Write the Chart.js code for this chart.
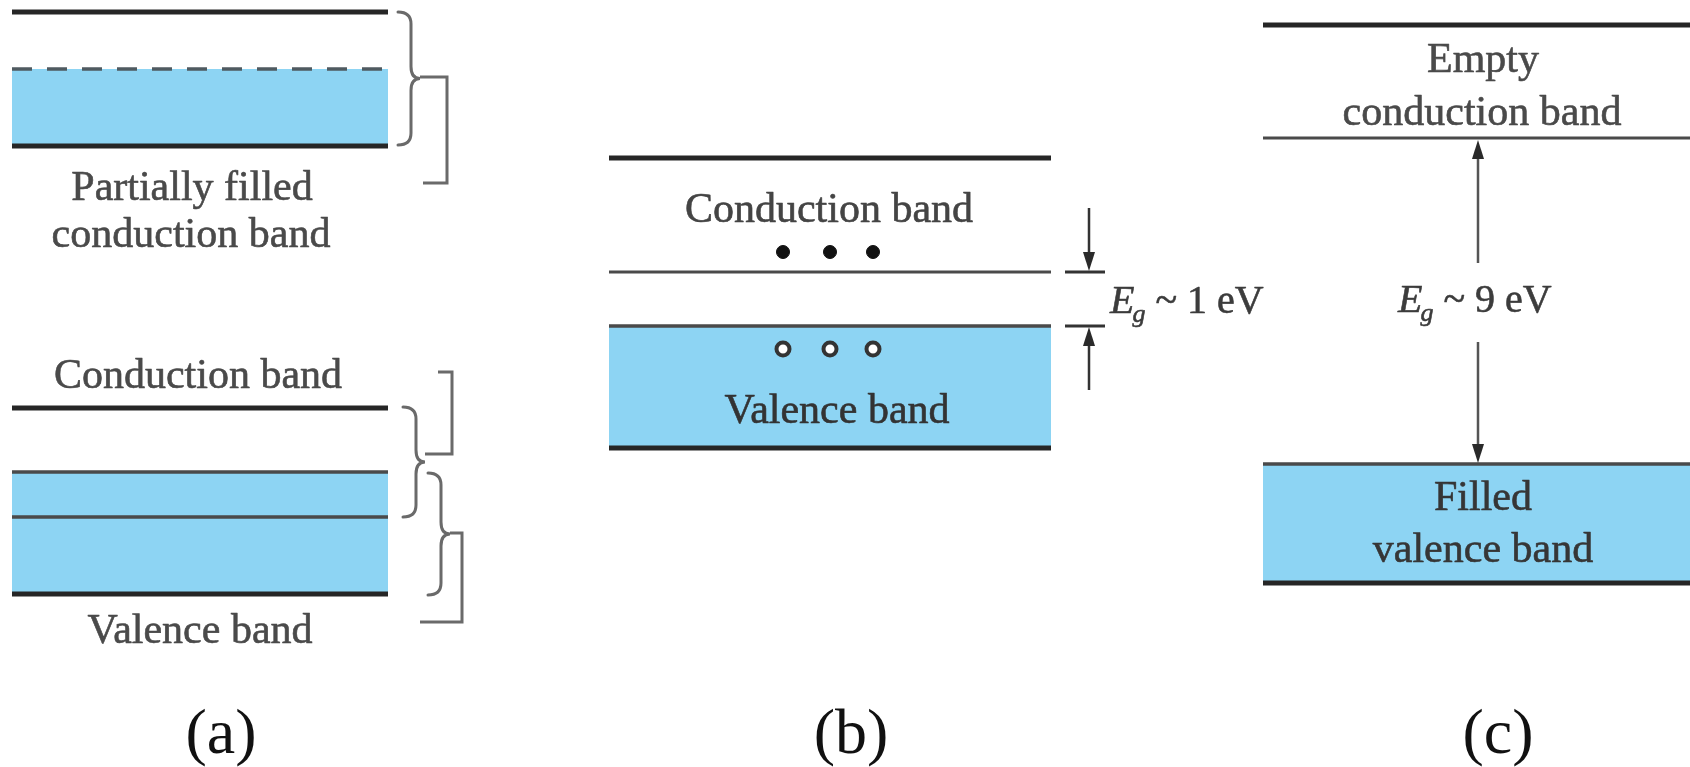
<!DOCTYPE html>
<html>
<head>
<meta charset="utf-8">
<script src="https://cdn.jsdelivr.net/npm/chart.js@4/dist/chart.umd.min.js"></script>
<style>
  html, body { margin: 0; padding: 0; background: #ffffff; }
  #wrap { width: 1690px; height: 767px; position: relative; }
  #fontwarm { position: absolute; left: -9999px; top: 0; font-family: "Liberation Serif"; }
</style>
</head>
<body>
<div id="wrap"><canvas id="c" width="1690" height="767"></canvas></div>
<div id="fontwarm"><span>Ag</span><i>Eg</i></div>
<script>
// ---------- Diagram data (diagram units: x across, y = energy axis drawn downward) ----------
const panelLabels = ['(a)', '(b)', '(c)'];
const panelLabelX = [221, 851, 1498];

// (a) metals
const metalSpan = [12, 388];
const metalLevels = [12, 69, 146];          // band top, Fermi level (dashed), band bottom
const overlapLevels = [408, 472, 517, 594]; // CB top, VB top, CB bottom, VB bottom

// (b) semiconductor
const semiSpan = [609, 1051];
const semiLevels = [158, 272, 326, 448];    // CB top, CB bottom, VB top, VB bottom
const electronX = [783, 830, 873];
const carrierLevels = [252, 349];           // electrons, holes

// (c) insulator
const insSpan = [1263, 1690];
const insLevels = [25, 138, 464, 583];      // CB top, CB bottom, VB top, VB bottom

// band gaps (eV)
const gapValues = ['1', '9'];
const gapArrowX = [1089, 1478];

// braces (a)
const braceTop = [12, 407, 473];
const braceBottom = [145, 517, 595];
const braceLeft = [398, 403, 428];

const BLUE = '#8dd4f3';
const DARK = '#262626';
const THIN = '#4a4a4a';
const SERIF = '"Liberation Serif", "Times New Roman", serif';

// ---------- helpers ----------
function hLine(span, y, width, color, dash) {
  return {
    type: 'line',
    data: [{x: span[0], y: y}, {x: span[1], y: y}],
    borderColor: color, borderWidth: width, borderDash: dash || [],
    pointRadius: 0, fill: false, order: 1, borderCapStyle: 'butt'
  };
}
function band(span, top, bottom) {
  return {
    type: 'line',
    data: [{x: span[0], y: top}, {x: span[1], y: top}],
    borderWidth: 0, borderColor: 'rgba(0,0,0,0)', backgroundColor: BLUE,
    pointRadius: 0, fill: {value: bottom}, order: 10
  };
}
function poly(pts, width, color) {
  return {
    type: 'line',
    data: pts.map(p => ({x: p[0], y: p[1]})),
    borderColor: color, borderWidth: width, pointRadius: 0, fill: false,
    order: 1, tension: 0, borderJoinStyle: 'miter', borderCapStyle: 'butt'
  };
}
function arrowHead(dir) {
  const c = document.createElement('canvas');
  c.width = 14; c.height = 20;
  const g = c.getContext('2d');
  g.fillStyle = '#2a2a2a';
  g.beginPath();
  if (dir === 'down') { g.moveTo(1, 1); g.lineTo(13, 1); g.lineTo(7, 20); }
  else { g.moveTo(7, 0); g.lineTo(13, 19); g.lineTo(1, 19); }
  g.closePath(); g.fill();
  return c;
}
const headDown = arrowHead('down');
const headUp = arrowHead('up');
function head(x, tipY, dir) {
  return {
    type: 'scatter',
    data: [{x: x, y: dir === 'down' ? tipY - 10 : tipY + 10}],
    pointStyle: dir === 'down' ? headDown : headUp,
    pointRadius: 10, order: 0
  };
}

const datasets = [];
// filled bands
datasets.push(band(metalSpan, metalLevels[1], metalLevels[2]));
datasets.push(band(metalSpan, overlapLevels[1], overlapLevels[3]));
datasets.push(band(semiSpan, semiLevels[2], semiLevels[3]));
datasets.push(band(insSpan, insLevels[2], insLevels[3]));
// band edges
datasets.push(hLine(metalSpan, metalLevels[0], 5, DARK));
datasets.push(hLine(metalSpan, metalLevels[1], 3.5, '#4f5a60', [20, 15]));
datasets.push(hLine(metalSpan, metalLevels[2], 5, DARK));
datasets.push(hLine(metalSpan, overlapLevels[0], 5, DARK));
datasets.push(hLine(metalSpan, overlapLevels[1], 3.5, THIN));
datasets.push(hLine(metalSpan, overlapLevels[2], 3.5, THIN));
datasets.push(hLine(metalSpan, overlapLevels[3], 5, DARK));
datasets.push(hLine(semiSpan, semiLevels[0], 5, DARK));
datasets.push(hLine(semiSpan, semiLevels[1], 3, THIN));
datasets.push(hLine(semiSpan, semiLevels[2], 3.5, THIN));
datasets.push(hLine(semiSpan, semiLevels[3], 5, DARK));
datasets.push(hLine(insSpan, insLevels[0], 5, DARK));
datasets.push(hLine(insSpan, insLevels[1], 3, THIN));
datasets.push(hLine(insSpan, insLevels[2], 3.5, THIN));
datasets.push(hLine(insSpan, insLevels[3], 5, DARK));
// brackets beside braces (a)
datasets.push(poly([[420, 77], [447, 77], [447, 183], [423, 183]], 3, '#6a6a6a'));
datasets.push(poly([[425, 454], [452, 454], [452, 372], [438, 372]], 3, '#6a6a6a'));
datasets.push(poly([[450, 533], [462, 533], [462, 622], [420, 622]], 3, '#6a6a6a'));
// gap arrows (b)
const bx = gapArrowX[0];
datasets.push(poly([[bx, 208], [bx, semiLevels[1] - 12]], 2.5, '#333'));
datasets.push(poly([[bx, semiLevels[2] + 12], [bx, 390]], 2.5, '#333'));
datasets.push(poly([[bx - 24, semiLevels[1]], [bx + 16, semiLevels[1]]], 3, '#333'));
datasets.push(poly([[bx - 24, semiLevels[2]], [bx + 16, semiLevels[2]]], 3, '#333'));
datasets.push(head(bx, semiLevels[1] - 1, 'down'));
datasets.push(head(bx, semiLevels[2] + 1, 'up'));
// gap arrows (c)
const cx = gapArrowX[1];
datasets.push(poly([[cx, insLevels[1] + 12], [cx, 263]], 2.5, '#555'));
datasets.push(poly([[cx, 342], [cx, insLevels[2] - 12]], 2.5, '#555'));
datasets.push(head(cx, insLevels[1] + 2, 'up'));
datasets.push(head(cx, insLevels[2] - 1, 'down'));
// carriers (b)
datasets.push({
  type: 'scatter', data: electronX.map(x => ({x: x, y: carrierLevels[0]})),
  pointRadius: 6.5, backgroundColor: '#111', borderColor: '#111', borderWidth: 1, order: 0
});
datasets.push({
  type: 'scatter', data: electronX.map(x => ({x: x, y: carrierLevels[1]})),
  pointRadius: 6.5, backgroundColor: '#ffffff', borderColor: '#333', borderWidth: 4, order: 0
});

// ---------- text & braces plugin ----------
const textItems = [
  ['Partially filled', 192, 200, '#4a4a4a'],
  ['conduction band', 191, 247, '#4a4a4a'],
  ['Conduction band', 198, 388, '#4a4a4a'],
  ['Valence band', 200, 643, '#4a4a4a'],
  ['Conduction band', 829, 222, '#444'],
  ['Valence band', 837, 423, '#333'],
  ['Empty', 1483, 72, '#4a4a4a'],
  ['conduction band', 1482, 125, '#4a4a4a'],
  ['Filled', 1483, 510, '#363636'],
  ['valence band', 1483, 562, '#363636']
];
const gapTextPos = [[1110, 313], [1398, 312]];

function heavyText(ctx, s, x, y, color) {
  ctx.fillStyle = color; ctx.strokeStyle = color; ctx.lineWidth = 0.6;
  ctx.fillText(s, x, y); ctx.strokeText(s, x, y);
}

const overlay = {
  id: 'overlay',
  afterDatasetsDraw(chart) {
    const ctx = chart.ctx, xs = chart.scales.x, ys = chart.scales.y;
    const X = v => xs.getPixelForValue(v), Y = v => ys.getPixelForValue(v);
    ctx.save();
    // braces
    ctx.strokeStyle = '#6a6a6a'; ctx.lineWidth = 3; ctx.lineCap = 'round';
    for (let i = 0; i < braceTop.length; i++) {
      const y0 = Y(braceTop[i]), y1 = Y(braceBottom[i]), ym = (y0 + y1) / 2;
      const xl = X(braceLeft[i]), xm = X(braceLeft[i] + 13), xt = X(braceLeft[i] + 22);
      const r = 12;
      ctx.beginPath();
      ctx.moveTo(xl, y0);
      ctx.quadraticCurveTo(xm, y0, xm, y0 + r);
      ctx.lineTo(xm, ym - r);
      ctx.quadraticCurveTo(xm, ym, xt, ym);
      ctx.quadraticCurveTo(xm, ym, xm, ym + r);
      ctx.lineTo(xm, y1 - r);
      ctx.quadraticCurveTo(xm, y1, xl, y1);
      ctx.stroke();
    }
    ctx.lineCap = 'butt'; ctx.lineJoin = 'round';
    // labels
    ctx.textAlign = 'center'; ctx.textBaseline = 'alphabetic';
    ctx.font = '42px ' + SERIF;
    textItems.forEach(t => heavyText(ctx, t[0], X(t[1]), Y(t[2]), t[3]));
    // gap labels
    ctx.textAlign = 'left';
    gapValues.forEach((v, i) => {
      let x = X(gapTextPos[i][0]); const y = Y(gapTextPos[i][1]);
      const col = '#3c3c3c';
      ctx.font = 'italic 40px ' + SERIF;
      heavyText(ctx, 'E', x, y, col); x += ctx.measureText('E').width - 2;
      ctx.font = 'italic 26px ' + SERIF;
      heavyText(ctx, 'g', x, y + 9, col); x += ctx.measureText('g').width;
      ctx.font = '40px ' + SERIF;
      heavyText(ctx, ' ~ ' + v + ' eV', x, y, col);
    });
    // panel labels
    ctx.textAlign = 'center'; ctx.fillStyle = '#111';
    ctx.font = '64px ' + SERIF;
    panelLabels.forEach((l, i) => ctx.fillText(l, X(panelLabelX[i]), Y(753)));
    ctx.restore();
  }
};

const chart = new Chart(document.getElementById('c'), {
  type: 'scatter',
  data: { datasets: datasets },
  options: {
    responsive: false,
    animation: false,
    events: [],
    layout: { padding: 0, autoPadding: false },
    scales: {
      x: { type: 'linear', min: 0, max: 1690, display: false },
      y: { type: 'linear', min: 0, max: 767, reverse: true, display: false }
    },
    plugins: { legend: { display: false }, tooltip: { enabled: false } }
  },
  plugins: [overlay]
});

if (document.fonts && document.fonts.load) {
  Promise.all([
    document.fonts.load('42px "Liberation Serif"'),
    document.fonts.load('italic 40px "Liberation Serif"')
  ]).then(() => chart.update('none')).catch(() => {});
}
</script>
</body>
</html>
